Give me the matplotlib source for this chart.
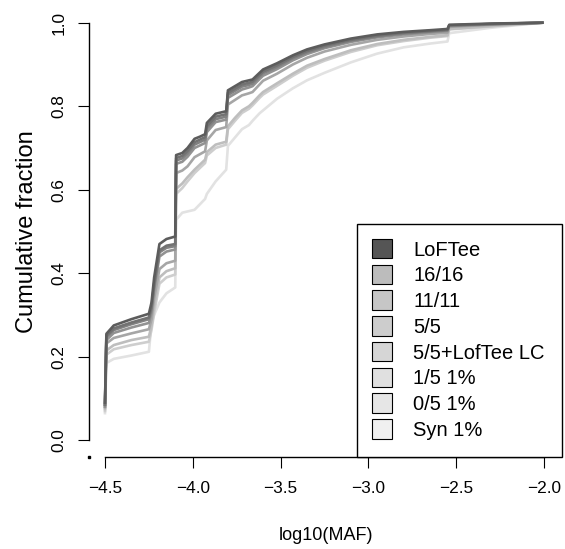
import matplotlib
matplotlib.use("Agg")
import matplotlib.pyplot as plt
import matplotlib.patches as mpatches
from matplotlib.legend_handler import HandlerPatch

plt.rcParams['font.family'] = ['Liberation Sans', 'DejaVu Sans']

# log10(MAF) break points shared by all curves
log_maf = [-4.500, -4.492, -4.45, -4.35, -4.25, -4.235, -4.22, -4.19, -4.15, -4.10,
           -4.095, -4.06, -4.03, -3.99, -3.96, -3.93, -3.92, -3.87, -3.81, -3.80,
           -3.76, -3.72, -3.68, -3.66, -3.62, -3.60, -3.52, -3.43, -3.35, -3.25,
           -3.10, -2.95, -2.80, -2.65, -2.55, -2.54, -2.30, -2.01]

loftee = [0.09, 0.255, 0.275, 0.290, 0.303, 0.33, 0.39, 0.47, 0.482, 0.488,
          0.683, 0.688, 0.700, 0.722, 0.727, 0.733, 0.760, 0.782, 0.788, 0.838,
          0.848, 0.858, 0.862, 0.864, 0.880, 0.888, 0.903, 0.922, 0.936, 0.948,
          0.962, 0.972, 0.978, 0.982, 0.985, 0.995, 0.998, 1.0]
c16 = [0.085, 0.250, 0.268, 0.282, 0.294, 0.32, 0.375, 0.455, 0.466, 0.470,
       0.676, 0.681, 0.693, 0.714, 0.720, 0.726, 0.752, 0.775, 0.781, 0.832,
       0.842, 0.852, 0.856, 0.859, 0.875, 0.883, 0.898, 0.918, 0.932, 0.945,
       0.959, 0.969, 0.976, 0.980, 0.983, 0.994, 0.997, 1.0]
c11 = [0.085, 0.247, 0.264, 0.278, 0.290, 0.315, 0.37, 0.45, 0.461, 0.465,
       0.670, 0.675, 0.687, 0.708, 0.714, 0.720, 0.746, 0.769, 0.775, 0.827,
       0.837, 0.847, 0.851, 0.854, 0.871, 0.879, 0.894, 0.915, 0.929, 0.942,
       0.957, 0.967, 0.974, 0.979, 0.982, 0.993, 0.997, 1.0]
c5 = [0.08, 0.240, 0.257, 0.270, 0.281, 0.305, 0.36, 0.44, 0.452, 0.457,
      0.662, 0.667, 0.679, 0.700, 0.706, 0.712, 0.738, 0.762, 0.768, 0.820,
      0.830, 0.840, 0.845, 0.848, 0.865, 0.873, 0.889, 0.910, 0.925, 0.939,
      0.954, 0.965, 0.972, 0.977, 0.980, 0.992, 0.996, 1.0]
c5_lc = [0.08, 0.232, 0.245, 0.256, 0.266, 0.29, 0.34, 0.41, 0.424, 0.430,
         0.640, 0.646, 0.656, 0.678, 0.685, 0.692, 0.718, 0.743, 0.750, 0.804,
         0.815, 0.826, 0.831, 0.834, 0.852, 0.861, 0.878, 0.900, 0.916, 0.931,
         0.947, 0.959, 0.967, 0.973, 0.976, 0.990, 0.995, 1.0]
c1_5 = [0.075, 0.215, 0.228, 0.240, 0.248, 0.275, 0.32, 0.39, 0.405, 0.412,
        0.602, 0.615, 0.630, 0.648, 0.660, 0.672, 0.690, 0.708, 0.715, 0.752,
        0.772, 0.790, 0.800, 0.808, 0.826, 0.834, 0.855, 0.878, 0.897, 0.913,
        0.934, 0.949, 0.959, 0.966, 0.970, 0.985, 0.992, 1.0]
c0_5 = [0.07, 0.205, 0.218, 0.228, 0.236, 0.265, 0.305, 0.375, 0.390, 0.397,
        0.590, 0.604, 0.620, 0.640, 0.652, 0.664, 0.682, 0.700, 0.708, 0.745,
        0.765, 0.784, 0.794, 0.802, 0.820, 0.828, 0.849, 0.873, 0.892, 0.909,
        0.930, 0.946, 0.956, 0.964, 0.968, 0.984, 0.991, 1.0]
syn = [0.065, 0.185, 0.195, 0.203, 0.212, 0.28, 0.30, 0.33, 0.352, 0.366,
       0.528, 0.545, 0.548, 0.552, 0.565, 0.578, 0.590, 0.620, 0.648, 0.705,
       0.725, 0.745, 0.755, 0.765, 0.783, 0.790, 0.818, 0.843, 0.862, 0.880,
       0.905, 0.926, 0.941, 0.950, 0.955, 0.975, 0.988, 1.0]

labels = ["LoFTee", "16/16", "11/11", "5/5", "5/5+LofTee LC", "1/5 1%", "0/5 1%", "Syn 1%"]
series = [loftee, c16, c11, c5, c5_lc, c1_5, c0_5, syn]
line_cols = ["#5c5c5c", "#727272", "#828282", "#929292", "#a6a6a6", "#bebebe", "#cecece", "#e2e2e2"]
fill_cols = ["#555555", "#bcbcbc", "#c6c6c6", "#cdcdcd", "#d6d6d6", "#e0e0e0", "#e6e6e6", "#f0f0f0"]

xlims = (-4.591, -1.898)
ylims = (-0.04, 1.04)

fig = plt.figure(figsize=(5.65, 5.49), dpi=100)
ax = fig.add_axes([89 / 565, 92 / 549, 473 / 565, 451 / 549])

# lightest first so the dark curves sit on top
for ys, col in reversed(list(zip(series, line_cols))):
    ax.plot(log_maf, ys, color=col, lw=1.9, solid_joinstyle='round')

# little stray point at the corner, as in the original
ax.plot([xlims[0]], [ylims[0]], marker='s', ms=1.5, color='black', clip_on=False)

ax.set_xlim(*xlims)
ax.set_ylim(*ylims)
for s in ['top', 'right']:
    ax.spines[s].set_visible(False)
ax.spines['left'].set_bounds(0, 1)
ax.spines['bottom'].set_bounds(-4.5, -2.0)
ax.spines['left'].set_linewidth(1)
ax.spines['bottom'].set_linewidth(1)

ax.set_xticks([-4.5, -4.0, -3.5, -3.0, -2.5, -2.0])
ax.set_xticklabels(["\u22124.5", "\u22124.0", "\u22123.5", "\u22123.0", "\u22122.5", "\u22122.0"])
ax.set_yticks([0, 0.2, 0.4, 0.6, 0.8, 1.0])
ax.set_yticklabels(["0.0", "0.2", "0.4", "0.6", "0.8", "1.0"])
ax.tick_params(axis='both', length=8, width=0.8, labelsize=12.4)
ax.tick_params(axis='x', pad=9)
ax.tick_params(axis='y', pad=8, labelrotation=90)
for t in ax.get_yticklabels():
    t.set_va('center')

ax.set_xlabel("log10(MAF)", fontsize=13)
ax.set_ylabel("Cumulative fraction", fontsize=17)
ax.xaxis.set_label_coords(0.5, -0.155)
ax.yaxis.set_label_coords(-0.108, 0.5)


def small_square(legend, orig_handle, xdescent, ydescent, width, height, fontsize):
    return mpatches.Rectangle((-xdescent + width - 15, -ydescent + (height - 14) / 2), 15, 14)


handles = [mpatches.Patch(facecolor=c, edgecolor='black', lw=0.8) for c in fill_cols]
leg = ax.legend(handles, labels, loc='lower right', bbox_to_anchor=(1, 0),
                borderaxespad=0, fontsize=14.5, frameon=True, fancybox=False,
                edgecolor='black', framealpha=1, borderpad=0.85,
                handlelength=0.9, handleheight=0.7, handletextpad=1.04,
                labelspacing=0.335,
                handler_map={mpatches.Patch: HandlerPatch(patch_func=small_square)})
leg.get_frame().set_linewidth(1)

fig.savefig("out.png", dpi=100)
